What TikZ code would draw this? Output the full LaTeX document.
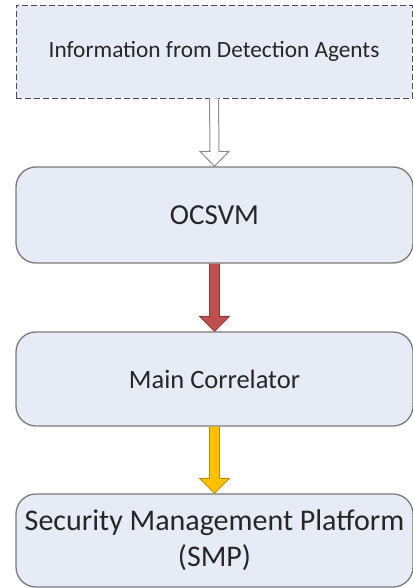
\documentclass[tikz,border=0pt]{standalone}
\usepackage{fontspec}
\setmainfont{Carlito}
\usetikzlibrary{calc}
\definecolor{boxfill}{HTML}{E6EBF6}
\definecolor{boxline}{HTML}{7A7A7A}
\definecolor{redfill}{HTML}{C0504D}
\definecolor{redline}{HTML}{8C3836}
\definecolor{yelfill}{HTML}{FFC000}
\definecolor{yelline}{HTML}{B88A00}
\definecolor{grayline}{HTML}{8C8C8C}
\begin{document}
\begin{tikzpicture}[x=1pt,y=1pt,
  stagebox/.style={draw=boxline, line width=1.3pt, fill=boxfill, rounded corners=20pt,
    minimum width=397pt, inner sep=0pt, align=center, text=black!85},
  srcbox/.style={draw=black!70, line width=0.9pt, dash pattern=on 6pt off 3pt, fill=boxfill,
    minimum width=396pt, minimum height=93pt, inner sep=0pt, align=center, text=black!85}]
\useasboundingbox (0,0) rectangle (412,-588);
\node[srcbox, font=\fontsize{23.3}{28}\selectfont] (src) at (214,-51.5) {Information from Detection Agents};
\node[stagebox, minimum height=96pt, font=\fontsize{29}{35}\selectfont] (oc) at (214.5,-215) {OCSVM};
\node[stagebox, minimum height=94pt, font=\fontsize{26.5}{32}\selectfont] (mc) at (214.5,-379) {Main Correlator};
\node[stagebox, minimum height=93pt, font=\fontsize{30}{36}\selectfont] (smp) at (214.5,-540.5) {Security Management Platform\\(SMP)};
% hollow gray arrow
\fill[white] ($(src.south)+(-4.5,0)$) -- ($(oc.north)+(-4.5,15)$) -- ($(oc.north)+(-14.5,15)$) -- (oc.north) -- ($(oc.north)+(14.5,15)$) -- ($(oc.north)+(4.5,15)$) -- ($(src.south)+(4.5,0)$) -- cycle;
\draw[grayline, line width=1pt, line join=miter] ($(src.south)+(-4.5,0)$) -- ($(oc.north)+(-4.5,15)$) -- ($(oc.north)+(-14.5,15)$) -- (oc.north) -- ($(oc.north)+(14.5,15)$) -- ($(oc.north)+(4.5,15)$) -- ($(src.south)+(4.5,0)$);
% red arrow
\fill[redfill] ($(oc.south)+(-5,0)$) -- ($(mc.north)+(-5,15)$) -- ($(mc.north)+(-15,15)$) -- (mc.north) -- ($(mc.north)+(15,15)$) -- ($(mc.north)+(5,15)$) -- ($(oc.south)+(5,0)$) -- cycle;
\draw[redline, line width=0.8pt] ($(oc.south)+(-5,0)$) -- ($(mc.north)+(-5,15)$) -- ($(mc.north)+(-15,15)$) -- (mc.north) -- ($(mc.north)+(15,15)$) -- ($(mc.north)+(5,15)$) -- ($(oc.south)+(5,0)$);
% yellow arrow
\fill[yelfill] ($(mc.south)+(-5,0)$) -- ($(smp.north)+(-5,15)$) -- ($(smp.north)+(-15,15)$) -- (smp.north) -- ($(smp.north)+(15,15)$) -- ($(smp.north)+(5,15)$) -- ($(mc.south)+(5,0)$) -- cycle;
\draw[yelline, line width=0.8pt] ($(mc.south)+(-5,0)$) -- ($(smp.north)+(-5,15)$) -- ($(smp.north)+(-15,15)$) -- (smp.north) -- ($(smp.north)+(15,15)$) -- ($(smp.north)+(5,15)$) -- ($(mc.south)+(5,0)$);
\end{tikzpicture}
\end{document}
